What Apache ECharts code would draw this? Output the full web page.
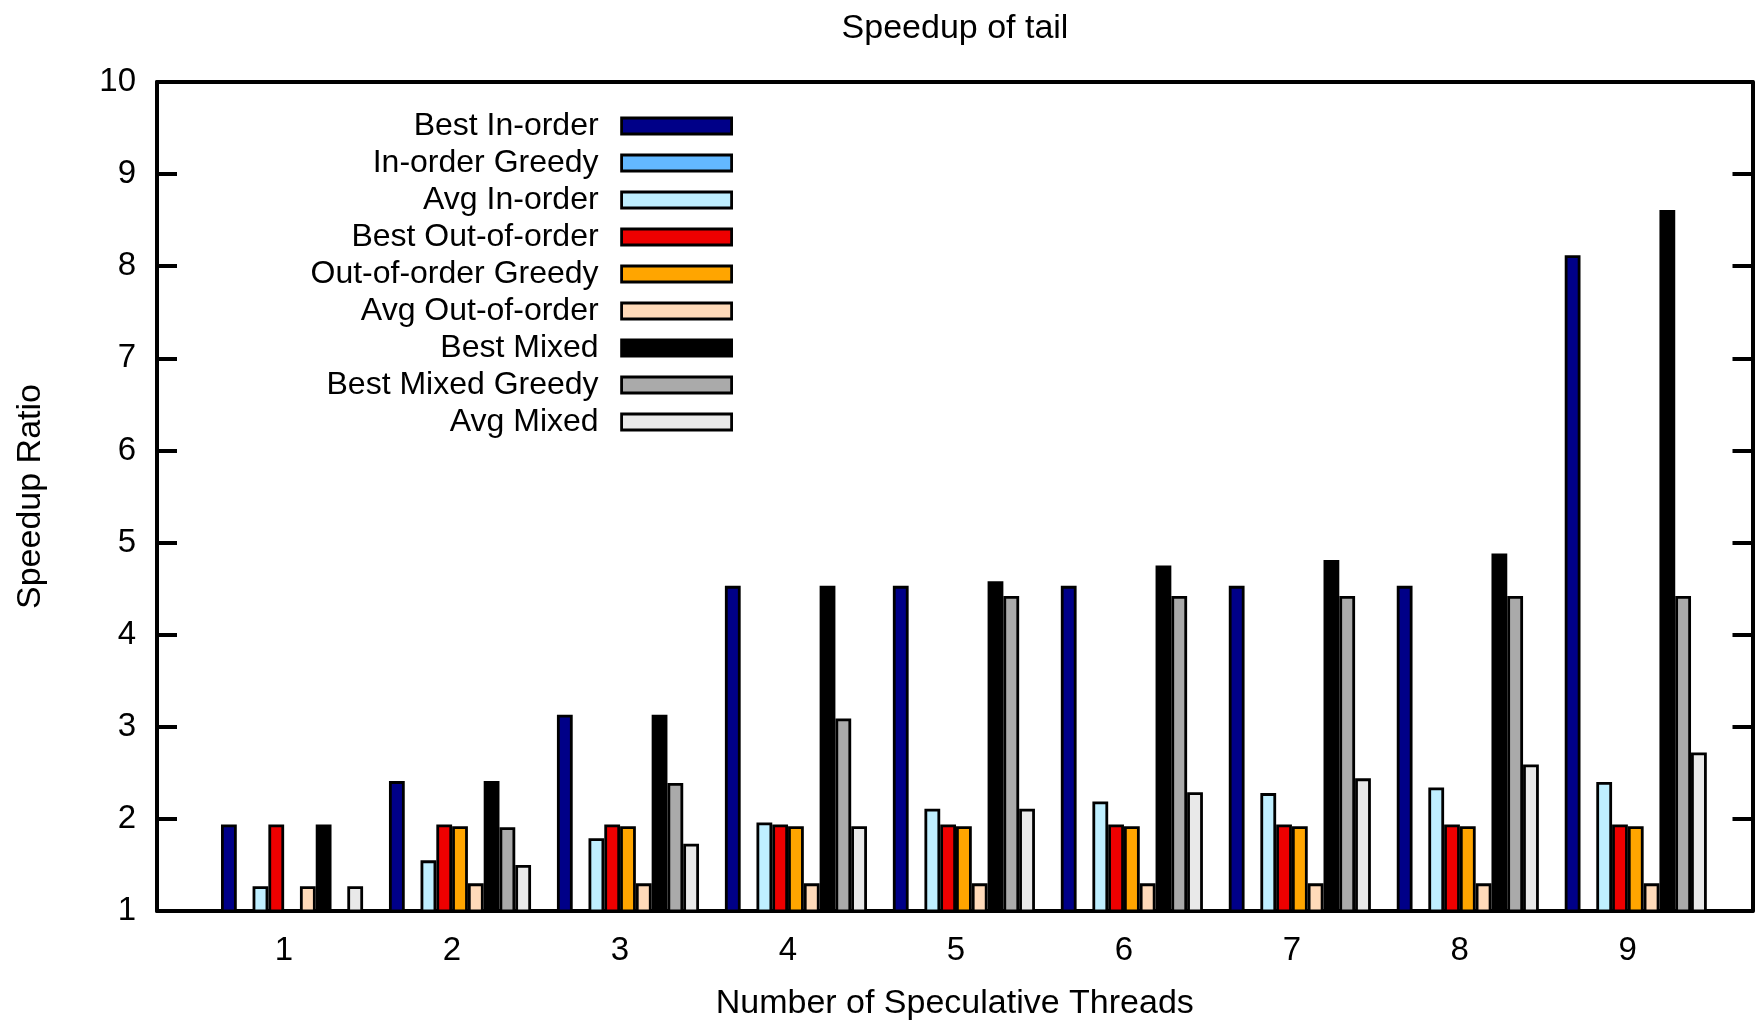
<!DOCTYPE html>
<html><head><meta charset="utf-8">
<script src="https://cdn.jsdelivr.net/npm/echarts@6/dist/echarts.min.js"></script>
<style>html,body{margin:0;padding:0;background:#fff}#c{width:1763px;height:1026px}</style>
</head><body><div id="c"></div>
<script>
const threads = [1, 2, 3, 4, 5, 6, 7, 8, 9];
const seriesNames = ['Best In-order', 'In-order Greedy', 'Avg In-order', 'Best Out-of-order',
  'Out-of-order Greedy', 'Avg Out-of-order', 'Best Mixed', 'Best Mixed Greedy', 'Avg Mixed'];
const seriesColors = ['#000088', '#63b8ff', '#bfefff', '#ee0000', '#ffa500', '#ffdab9', '#000000', '#aaaaaa', '#e9e9e9'];

const bestInOrder   = [1.94, 2.41, 3.13, 4.53, 4.53, 4.53, 4.53, 4.53, 8.12];
const inOrderGreedy = [null, null, null, null, null, null, null, null, null];
const avgInOrder    = [1.27, 1.55, 1.79, 1.96, 2.11, 2.19, 2.28, 2.34, 2.40];
const bestOoO       = [1.94, 1.94, 1.94, 1.94, 1.94, 1.94, 1.94, 1.94, 1.94];
const oooGreedy     = [null, 1.92, 1.92, 1.92, 1.92, 1.92, 1.92, 1.92, 1.92];
const avgOoO        = [1.27, 1.30, 1.30, 1.30, 1.30, 1.30, 1.30, 1.30, 1.30];
const bestMixed     = [1.94, 2.41, 3.13, 4.53, 4.58, 4.75, 4.81, 4.88, 8.61];
const mixedGreedy   = [null, 1.91, 2.39, 3.09, 4.42, 4.42, 4.42, 4.42, 4.42];
const avgMixed      = [1.27, 1.50, 1.73, 1.92, 2.11, 2.29, 2.44, 2.59, 2.72];

const yTicks = [1, 2, 3, 4, 5, 6, 7, 8, 9, 10];

const allValues = [bestInOrder, inOrderGreedy, avgInOrder, bestOoO, oooGreedy, avgOoO, bestMixed, mixedGreedy, avgMixed];

const FONT = 'Liberation Sans, Arial, sans-serif';
const chart = echarts.init(document.getElementById('c'), null, {renderer: 'canvas'});

const series = seriesNames.map((name, k) => ({
  name: name,
  type: 'bar',
  xAxisIndex: 0,
  yAxisIndex: 0,
  barWidth: '9.4%',
  barGap: '0%',
  data: threads.map((t, i) => [t, allValues[k][i]]),
  itemStyle: {color: seriesColors[k], borderColor: '#000', borderWidth: 2.8},
  emphasis: {disabled: true}
}));

const option = {
  animation: false,
  backgroundColor: '#fff',
  textStyle: {fontFamily: FONT},
  title: {
    text: 'Speedup of tail',
    left: 950, top: 7, textAlign: 'center',
    textStyle: {fontFamily: FONT, fontSize: 34, fontWeight: 'normal', color: '#000'}
  },
  legend: {
    orient: 'vertical',
    align: 'right',
    right: 1025,
    top: 105,
    itemWidth: 110,
    itemHeight: 16,
    itemGap: 5,
    data: seriesNames,
    icon: 'rect',
    itemStyle: {borderColor: '#000', borderWidth: 2.8},
    textStyle: {fontFamily: FONT, fontSize: 32, color: '#000', lineHeight: 32, padding: [0, 18, 0, 0]}
  },
  grid: {left: 157, right: 10.5, top: 82, bottom: 112, containLabel: false},
  xAxis: [{
    type: 'value',
    min: 0.196, max: 9.695,
    name: 'Number of Speculative Threads',
    nameLocation: 'middle',
    nameGap: 76,
    nameTextStyle: {fontFamily: FONT, fontSize: 34, color: '#000'},
    axisLine: {show: true, lineStyle: {color: '#000', width: 4}},
    axisTick: {show: false},
    splitLine: {show: false},
    axisLabel: {
      customValues: threads,
      margin: 23,
      formatter: v => '{v|' + v + '}',
      rich: {v: {fontFamily: FONT, fontSize: 33, color: '#000', padding: [0, 16, 0, 0]}}
    }
  }, {
    type: 'value',
    position: 'top',
    min: 0.196, max: 9.695,
    axisLine: {show: true, lineStyle: {color: '#000', width: 4}},
    axisTick: {show: false},
    axisLabel: {show: false},
    splitLine: {show: false}
  }],
  yAxis: [{
    type: 'value',
    min: yTicks[0], max: yTicks[yTicks.length - 1], interval: 1,
    name: 'Speedup Ratio',
    nameLocation: 'middle',
    nameGap: 109,
    nameTextStyle: {fontFamily: FONT, fontSize: 34, color: '#000'},
    axisLine: {show: true, lineStyle: {color: '#000', width: 4}},
    axisTick: {show: true, inside: true, length: 20, lineStyle: {color: '#000', width: 4}},
    splitLine: {show: false},
    axisLabel: {margin: 21, fontFamily: FONT, fontSize: 33, color: '#000'}
  }, {
    type: 'value',
    position: 'right',
    min: yTicks[0], max: yTicks[yTicks.length - 1], interval: 1,
    axisLine: {show: true, lineStyle: {color: '#000', width: 4}},
    axisTick: {show: true, inside: true, length: 20, lineStyle: {color: '#000', width: 4}},
    splitLine: {show: false},
    axisLabel: {show: false}
  }],
  series: series
};
chart.setOption(option);
</script>
</body></html>
